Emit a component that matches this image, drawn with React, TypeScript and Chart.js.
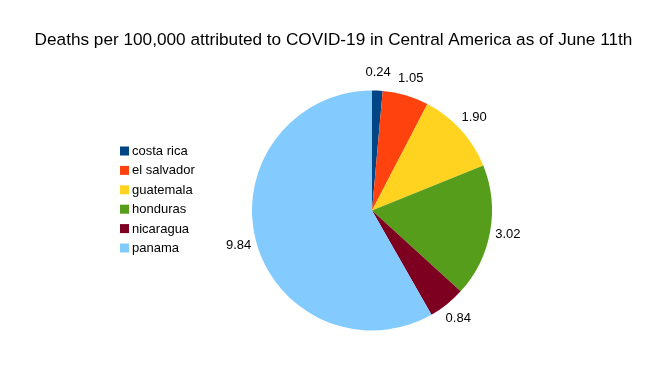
import React, { useEffect, useRef } from "react";
import { Chart, registerables } from "chart.js";

Chart.register(...registerables);

const TITLE = "Deaths per 100,000 attributed to COVID-19 in Central America as of June 11th";
const countries = ["costa rica", "el salvador", "guatemala", "honduras", "nicaragua", "panama"];
const deaths = [0.24, 1.05, 1.9, 3.02, 0.84, 9.84];
const colors = ["#004586", "#ff420e", "#ffd320", "#579d1c", "#7e0021", "#83caff"];

const FONT = "'Liberation Sans', Arial, sans-serif";

const overlayPlugin = {
  id: "overlay",
  afterDraw(chart: any) {
    const ctx = chart.ctx as CanvasRenderingContext2D;
    ctx.save();
    // title
    ctx.fillStyle = "#000";
    ctx.font = `17.2px ${FONT}`;
    ctx.textAlign = "center";
    ctx.textBaseline = "middle";
    ctx.fillText(TITLE, 333.5, 40);

    // legend
    const labels = chart.data.labels as string[];
    const bg = chart.data.datasets[0].backgroundColor as string[];
    ctx.font = `13px ${FONT}`;
    ctx.textAlign = "left";
    labels.forEach((l, i) => {
      const y = 151 + i * 19.4;
      ctx.fillStyle = bg[i];
      ctx.fillRect(120, y - 4.5, 9, 9);
      ctx.fillStyle = "#000";
      ctx.fillText(l, 132, y + 0.5);
    });

    // value labels
    const meta = chart.getDatasetMeta(0);
    const vals = chart.data.datasets[0].data as number[];
    ctx.font = `13px ${FONT}`;
    ctx.textAlign = "center";
    meta.data.forEach((arc: any, i: number) => {
      const p = arc.getProps(["x", "y", "startAngle", "endAngle", "outerRadius"], true);
      const mid = (p.startAngle + p.endAngle) / 2;
      const r = p.outerRadius + 18;
      ctx.fillStyle = "#000";
      ctx.fillText(vals[i].toFixed(2), p.x + Math.cos(mid) * r, p.y + Math.sin(mid) * r);
    });
    ctx.restore();
  },
};

export default function App() {
  const ref = useRef<HTMLCanvasElement>(null);
  useEffect(() => {
    document.body.style.margin = "0";
    const chart = new Chart(ref.current!, {
      type: "pie",
      data: {
        labels: countries,
        datasets: [
          {
            data: deaths,
            backgroundColor: colors,
            borderWidth: 0,
          },
        ],
      },
      options: {
        animation: false,
        responsive: false,
        maintainAspectRatio: false,
        layout: { padding: { left: 252, right: 172, top: 90, bottom: 41 } },
        plugins: {
          legend: { display: false },
          title: { display: false },
          tooltip: { enabled: false },
        },
      },
      plugins: [overlayPlugin],
    });
    return () => chart.destroy();
  }, []);
  return (
    <div style={{ width: 664, height: 372, background: "#fff" }}>
      <canvas ref={ref} width={664} height={372} style={{ display: "block" }} />
    </div>
  );
}
